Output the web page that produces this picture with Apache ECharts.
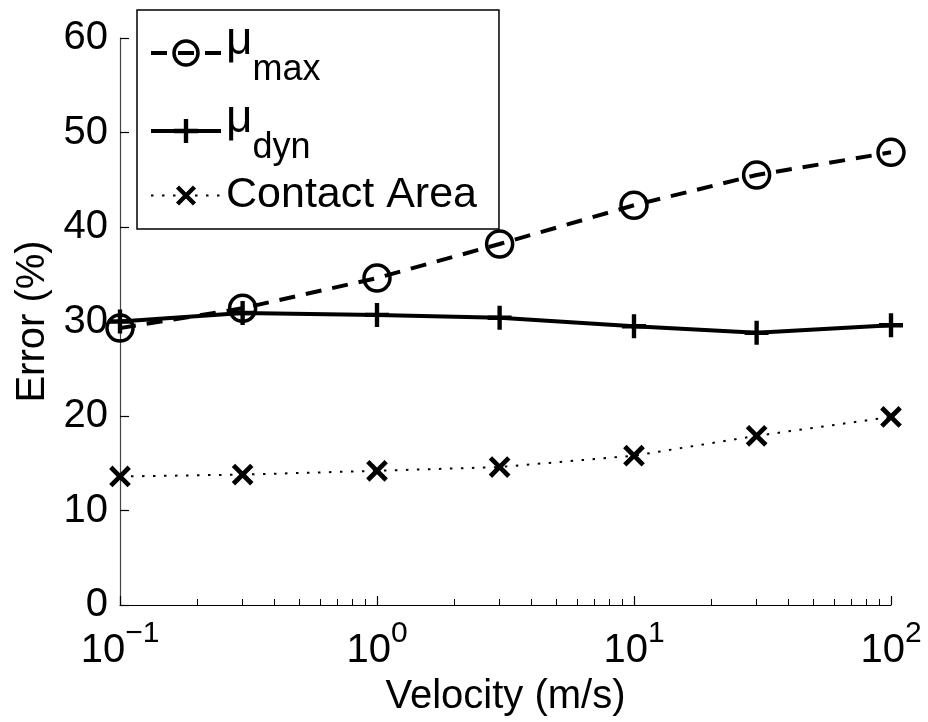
<!DOCTYPE html>
<html>
<head>
<meta charset="utf-8">
<script src="https://cdn.jsdelivr.net/npm/echarts@6/dist/echarts.min.js"></script>
<style>
  html, body { margin: 0; padding: 0; background: #fff; }
  #chart { width: 928px; height: 722px; }
</style>
</head>
<body>
<div id="chart"></div>
<script>
var velocity = [0.1, 0.3, 1, 3, 10, 30, 100];
var muMax = [29.3, 31.4, 34.6, 38.2, 42.3, 45.5, 47.9];
var muDyn = [30.0, 30.9, 30.7, 30.4, 29.5, 28.8, 29.6];
var contactArea = [13.6, 13.8, 14.2, 14.6, 15.8, 17.9, 19.9];
var minorTicks = [0.2, 0.3, 0.4, 0.5, 0.6, 0.7, 0.8, 0.9,
                  2, 3, 4, 5, 6, 7, 8, 9,
                  20, 30, 40, 50, 60, 70, 80, 90];

var FONT = '"Liberation Sans", Arial, Helvetica, sans-serif';
var plus = 'path://M9,0 H13 V9 H22 V13 H13 V22 H9 V13 H0 V9 H9 Z';

function pairs(xs, ys) {
    var out = [];
    for (var i = 0; i < xs.length; i++) out.push([xs[i], ys[i]]);
    return out;
}

var myChart = echarts.init(document.getElementById('chart'), null, {renderer: 'canvas'});
var option = {
    backgroundColor: '#fff',
    animation: false,
    textStyle: {fontFamily: FONT, color: '#000'},
    grid: {left: 120, right: 37, top: 38, bottom: 117, containLabel: false, outerBoundsMode: 'none'},
    legend: {
        left: 137,
        top: 10,
        orient: 'vertical',
        backgroundColor: '#fff',
        borderColor: '#000',
        borderWidth: 1.5,
        borderRadius: 0,
        padding: [8, 22, 12, 12],
        itemWidth: 70,
        itemHeight: 30,
        itemGap: 8,
        data: [
            {name: 'muMax', lineStyle: {width: 4}, itemStyle: {borderWidth: 3.5}},
            {name: 'muDyn', lineStyle: {width: 4}},
            {name: 'contact', lineStyle: {width: 2}}
        ],
        formatter: function (name) {
            if (name == 'muMax') return '{mu|μ}{sub|max}';
            if (name == 'muDyn') return '{mu|μ}{sub|dyn}';
            return '{txt|Contact Area}';
        },
        textStyle: {
            fontFamily: FONT,
            color: '#000',
            rich: {
                mu: {fontSize: 46, fontFamily: FONT, lineHeight: 70, verticalAlign: 'top', padding: [0, 0, 0, 0]},
                sub: {fontSize: 36, fontFamily: FONT, lineHeight: 40, verticalAlign: 'bottom', padding: [34, 0, 0, 0]},
                txt: {fontSize: 43, fontFamily: FONT, lineHeight: 52}
            }
        }
    },
    xAxis: [
        {
            type: 'log',
            logBase: 10,
            min: 0.1,
            max: 100,
            name: 'Velocity (m/s)',
            nameLocation: 'middle',
            nameGap: 72,
            nameTextStyle: {fontSize: 40, fontFamily: FONT, color: '#000'},
            axisLine: {show: true, lineStyle: {color: '#000', width: 1.2}},
            axisTick: {show: true, inside: true, length: 9, lineStyle: {color: '#000', width: 1.2}},
            splitLine: {show: false},
            axisLabel: {
                color: '#000',
                margin: 14,
                formatter: function (v) {
                    var e = Math.round(Math.log10(v));
                    return '{b|10}{s|' + (e < 0 ? '\u2212' + (-e) : e) + '}';
                },
                rich: {
                    b: {fontSize: 40, fontFamily: FONT, color: '#000', verticalAlign: 'bottom', lineHeight: 52},
                    s: {fontSize: 30, fontFamily: FONT, color: '#000', verticalAlign: 'top', lineHeight: 52}
                }
            }
        },
        {
            type: 'log',
            logBase: 10,
            min: 0.1,
            max: 100,
            position: 'bottom',
            axisLine: {show: false},
            axisLabel: {show: false},
            splitLine: {show: false},
            axisTick: {show: true, inside: true, length: 6, customValues: minorTicks, lineStyle: {color: '#000', width: 1}}
        }
    ],
    yAxis: {
        type: 'value',
        min: 0,
        max: 60,
        interval: 10,
        name: 'Error (%)',
        nameLocation: 'middle',
        nameGap: 67,
        nameTextStyle: {fontSize: 40, fontFamily: FONT, color: '#000'},
        axisLine: {show: true, lineStyle: {color: '#444', width: 1.2}},
        axisTick: {show: true, inside: true, length: 9, lineStyle: {color: '#000', width: 1.2}},
        splitLine: {show: false},
        axisLabel: {fontSize: 40, fontFamily: FONT, color: '#000', margin: 12}
    },
    series: [
        {
            name: 'muMax',
            type: 'line',
            data: pairs(velocity, muMax),
            symbol: 'circle',
            symbolSize: 26,
            showAllSymbol: true,
            lineStyle: {color: '#000', width: 4, type: [16, 11]},
            itemStyle: {color: 'none', borderColor: '#000', borderWidth: 3.5}
        },
        {
            name: 'muDyn',
            type: 'line',
            data: pairs(velocity, muDyn),
            symbol: plus,
            symbolSize: 24,
            showAllSymbol: true,
            lineStyle: {color: '#000', width: 4},
            itemStyle: {color: '#000'}
        },
        {
            name: 'contact',
            type: 'line',
            data: pairs(velocity, contactArea),
            symbol: plus,
            symbolSize: 26,
            symbolRotate: 45,
            showAllSymbol: true,
            lineStyle: {color: '#000', width: 2, type: [2.5, 8.5]},
            itemStyle: {color: '#000'}
        }
    ]
};
myChart.setOption(option);
</script>
</body>
</html>
